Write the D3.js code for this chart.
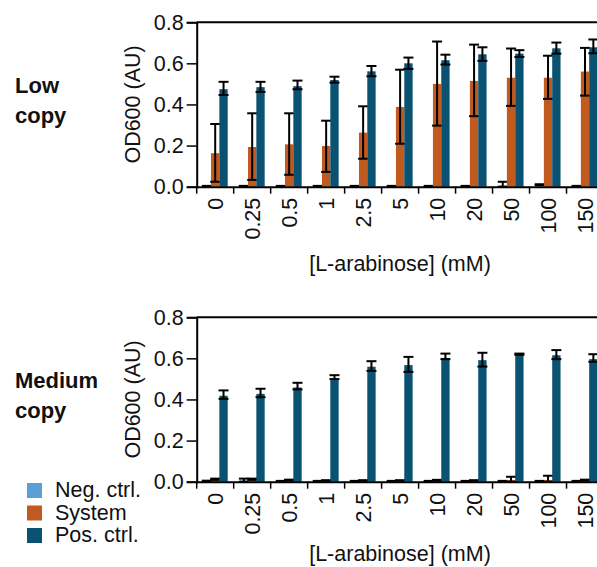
<!DOCTYPE html>
<html>
<head>
<meta charset="utf-8">
<script src="https://cdn.jsdelivr.net/npm/d3@7"></script>
<style>
  body { margin: 0; background: #fff; }
  text { font-family: "Liberation Sans", Arial, sans-serif; fill: #111; }
</style>
</head>
<body>
<div id="app"></div>
<script>
const concentrations = ['0', '0.25', '0.5', '1', '2.5', '5', '10', '20', '50', '100', '150'];
const seriesNames = ['Neg. ctrl.', 'System', 'Pos. ctrl.'];
const yTicks = [0, 0.2, 0.4, 0.6, 0.8];

// low copy: mean, lower err, upper err
const lowNeg = [0.003, 0.003, 0.003, 0.003, 0.003, 0.003, 0.003, 0.003, 0.005, 0.01, 0.003];
const lowNegLo = [0.002, 0.002, 0.002, 0.002, 0.002, 0.002, 0.002, 0.002, 0.0, 0.008, 0.002];
const lowNegHi = [0.004, 0.004, 0.004, 0.004, 0.004, 0.004, 0.004, 0.004, 0.024, 0.012, 0.004];
const lowSys = [0.163, 0.193, 0.206, 0.198, 0.263, 0.388, 0.5, 0.514, 0.53, 0.53, 0.56];
const lowSysLo = [0.024, 0.033, 0.058, 0.072, 0.136, 0.209, 0.297, 0.343, 0.393, 0.427, 0.443];
const lowSysHi = [0.305, 0.357, 0.357, 0.321, 0.391, 0.569, 0.706, 0.691, 0.672, 0.637, 0.675];
const lowPos = [0.474, 0.484, 0.489, 0.519, 0.561, 0.6, 0.615, 0.644, 0.647, 0.673, 0.678];
const lowPosLo = [0.446, 0.461, 0.474, 0.506, 0.537, 0.573, 0.594, 0.612, 0.631, 0.647, 0.649];
const lowPosHi = [0.51, 0.51, 0.516, 0.535, 0.587, 0.628, 0.642, 0.678, 0.664, 0.701, 0.716];

// medium copy
const medNeg = [0.004, 0.006, 0.003, 0.003, 0.003, 0.003, 0.003, 0.003, 0.003, 0.003, 0.003];
const medNegLo = [0.003, 0.0, 0.002, 0.002, 0.002, 0.002, 0.002, 0.002, 0.002, 0.002, 0.002];
const medNegHi = [0.005, 0.015, 0.004, 0.004, 0.004, 0.004, 0.004, 0.004, 0.004, 0.004, 0.004];
const medSys = [0.012, 0.012, 0.008, 0.006, 0.006, 0.006, 0.007, 0.006, 0.008, 0.008, 0.008];
const medSysLo = [0.009, 0.009, 0.006, 0.005, 0.005, 0.005, 0.005, 0.005, 0.0, 0.0, 0.006];
const medSysHi = [0.015, 0.015, 0.01, 0.007, 0.007, 0.007, 0.009, 0.007, 0.024, 0.029, 0.01];
const medPos = [0.418, 0.427, 0.458, 0.502, 0.559, 0.567, 0.602, 0.591, 0.62, 0.615, 0.596];
const medPosLo = [0.403, 0.411, 0.449, 0.499, 0.539, 0.534, 0.596, 0.56, 0.617, 0.596, 0.583];
const medPosHi = [0.444, 0.452, 0.481, 0.518, 0.586, 0.607, 0.623, 0.627, 0.623, 0.64, 0.62];

const colors = ['#5a9fd6', '#c05a1e', '#0a5272'];
const fs = 21.5;

const svg = d3.select('#app')
  .append('svg')
  .attr('width', 597)
  .attr('height', 567);

const makeSeries = (means, los, his) => means.map((v, i) => ({ v: v, lo: los[i], hi: his[i] }));

function drawPanel(top, titleY, labelLines, series) {
  const y = d3.scaleLinear().domain([0, 0.8]).range([top + 164.5, top]);
  const x = d3.scaleBand().domain(concentrations).range([196.7, 603.5]).paddingInner(0).paddingOuter(0);
  const sub = d3.scaleBand().domain(d3.range(3)).range([0, 25]);
  const g = svg.append('g');

  series.forEach((s, si) => {
    const sg = g.append('g');
    s.forEach((d, i) => {
      const bx = x(concentrations[i]) + 6 + sub(si);
      sg.append('rect')
        .attr('x', bx)
        .attr('y', y(d.v))
        .attr('width', sub.bandwidth())
        .attr('height', y(0) - y(d.v))
        .attr('fill', colors[si]);
    });
    s.forEach((d, i) => {
      const cx = x(concentrations[i]) + 6 + sub(si) + sub.bandwidth() / 2;
      const eg = sg.append('g').attr('stroke', '#000').attr('stroke-width', 2);
      eg.append('line').attr('x1', cx).attr('x2', cx).attr('y1', y(d.lo)).attr('y2', y(d.hi));
      eg.append('line').attr('x1', cx - 5).attr('x2', cx + 5).attr('y1', y(d.lo)).attr('y2', y(d.lo));
      eg.append('line').attr('x1', cx - 5).attr('x2', cx + 5).attr('y1', y(d.hi)).attr('y2', y(d.hi));
    });
  });

  // top frame line
  g.append('line')
    .attr('x1', 196.7).attr('x2', 597)
    .attr('y1', y(0.8)).attr('y2', y(0.8))
    .attr('stroke', '#000').attr('stroke-width', 2);

  const yAxis = g.append('g')
    .attr('transform', `translate(196.7,0)`)
    .call(d3.axisLeft(y).tickValues(yTicks).tickFormat(d3.format('.1f')).tickSize(10).tickPadding(3));
  yAxis.select('.domain').attr('stroke-width', 2);
  yAxis.selectAll('.tick line').attr('stroke-width', 1.5);
  yAxis.selectAll('.tick text').attr('font-size', fs).attr('fill', '#111');

  const xAxis = g.append('g')
    .attr('transform', `translate(0,${y(0)})`)
    .call(d3.axisBottom(x).tickSize(0).tickPadding(0));
  xAxis.select('.domain').attr('stroke-width', 2);
  xAxis.selectAll('.tick text')
    .attr('font-size', fs)
    .attr('fill', '#111')
    .attr('transform', 'rotate(-90)')
    .attr('text-anchor', 'end')
    .attr('dy', '0.35em')
    .attr('x', -11)
    .attr('y', 0);
  // boundary ticks between categories
  xAxis.selectAll('.sep')
    .data(concentrations)
    .join('line')
    .attr('class', 'sep')
    .attr('x1', d => x(d)).attr('x2', d => x(d))
    .attr('y1', 0).attr('y2', 7)
    .attr('stroke', '#000').attr('stroke-width', 1.5);

  g.append('text')
    .attr('transform', `translate(140,${(y(0) + y(0.8)) / 2}) rotate(-90)`)
    .attr('text-anchor', 'middle')
    .attr('font-size', fs)
    .text('OD600 (AU)');

  g.append('text')
    .attr('x', 400)
    .attr('y', titleY)
    .attr('text-anchor', 'middle')
    .attr('font-size', fs)
    .text('[L-arabinose] (mM)');

  g.append('text')
    .attr('font-size', 22)
    .attr('font-weight', 'bold')
    .selectAll('tspan')
    .data(labelLines)
    .join('tspan')
    .attr('x', 15)
    .attr('y', (d, i) => top + 70.5 + i * 30.6)
    .text(d => d);
}

drawPanel(22.2, 271, ['Low', 'copy'], [
  makeSeries(lowNeg, lowNegLo, lowNegHi),
  makeSeries(lowSys, lowSysLo, lowSysHi),
  makeSeries(lowPos, lowPosLo, lowPosHi)
]);

drawPanel(317.2, 561, ['Medium', 'copy'], [
  makeSeries(medNeg, medNegLo, medNegHi),
  makeSeries(medSys, medSysLo, medSysHi),
  makeSeries(medPos, medPosLo, medPosHi)
]);

const legend = svg.append('g').attr('transform', 'translate(27,483)');
seriesNames.forEach((name, i) => {
  legend.append('rect')
    .attr('x', 0).attr('y', i * 22.5)
    .attr('width', 15).attr('height', 15)
    .attr('fill', colors[i]);
  legend.append('text')
    .attr('x', 28).attr('y', i * 22.5 + 14)
    .attr('font-size', fs)
    .text(name);
});
</script>
</body>
</html>
